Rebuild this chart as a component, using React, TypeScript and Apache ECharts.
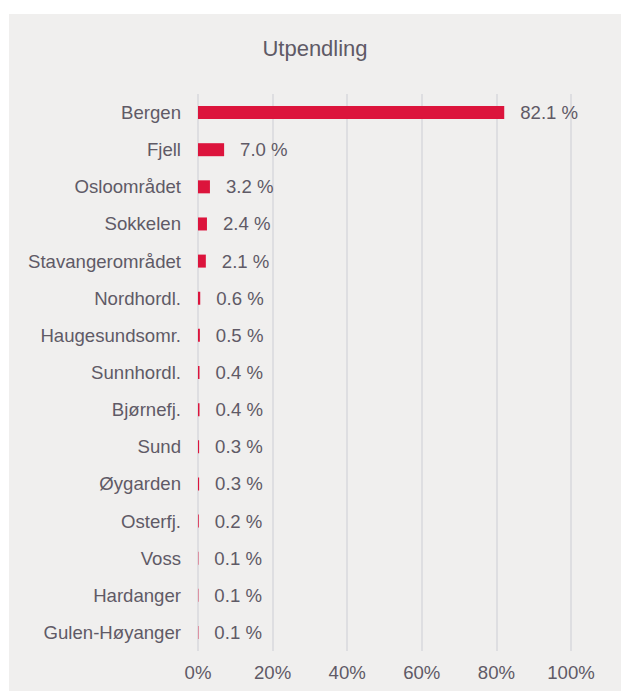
import React, { useEffect, useRef } from "react";
import * as echarts from "echarts";

const title = "Utpendling";
const categories = [
  "Bergen",
  "Fjell",
  "Osloområdet",
  "Sokkelen",
  "Stavangerområdet",
  "Nordhordl.",
  "Haugesundsomr.",
  "Sunnhordl.",
  "Bjørnefj.",
  "Sund",
  "Øygarden",
  "Osterfj.",
  "Voss",
  "Hardanger",
  "Gulen-Høyanger",
];
const values = [82.1, 7.0, 3.2, 2.4, 2.1, 0.6, 0.5, 0.4, 0.4, 0.3, 0.3, 0.2, 0.1, 0.1, 0.1];
const xTicks = [0, 20, 40, 60, 80, 100];

const textColor = "#5f5a66";
const font = "Liberation Sans, Arial, sans-serif";
const fs = 18.6;

export default function App() {
  const ref = useRef<HTMLDivElement>(null);
  useEffect(() => {
    if (!ref.current) return;
    const chart = echarts.init(ref.current, undefined, { renderer: "svg" });
    chart.setOption({
      animation: false,
      backgroundColor: "#f0efee",
      title: {
        text: title,
        left: "center",
        top: 18,
        textStyle: { color: textColor, fontSize: 22, fontWeight: "normal", fontFamily: font },
      },
      grid: { left: 189, right: 50, top: 80, bottom: 40, containLabel: false },
      xAxis: {
        type: "value",
        min: xTicks[0],
        max: xTicks[xTicks.length - 1],
        interval: 20,
        axisLine: { show: false },
        axisTick: { show: false },
        splitLine: { show: true, lineStyle: { color: "#d9d8dd", width: 1.5 } },
        axisLabel: {
          color: textColor,
          fontSize: fs,
          fontFamily: font,
          margin: 12,
          formatter: (v: number) => `${v}%`,
        },
      },
      yAxis: {
        type: "category",
        data: categories,
        inverse: true,
        axisLine: { show: false },
        axisTick: { show: false },
        axisLabel: { color: textColor, fontSize: fs, fontFamily: font, margin: 17 },
      },
      series: [
        {
          type: "bar",
          data: values,
          barWidth: 13,
          itemStyle: { color: "#dc143c" },
          label: {
            show: true,
            position: "right",
            distance: 16,
            color: textColor,
            fontSize: fs,
            fontFamily: font,
            formatter: (p: any) => `${Number(p.value).toFixed(1)} %`,
          },
        },
      ],
    });
    return () => chart.dispose();
  }, []);
  return (
    <div
      ref={ref}
      style={{ position: "absolute", left: 9, top: 14, width: 612, height: 677 }}
    />
  );
}
